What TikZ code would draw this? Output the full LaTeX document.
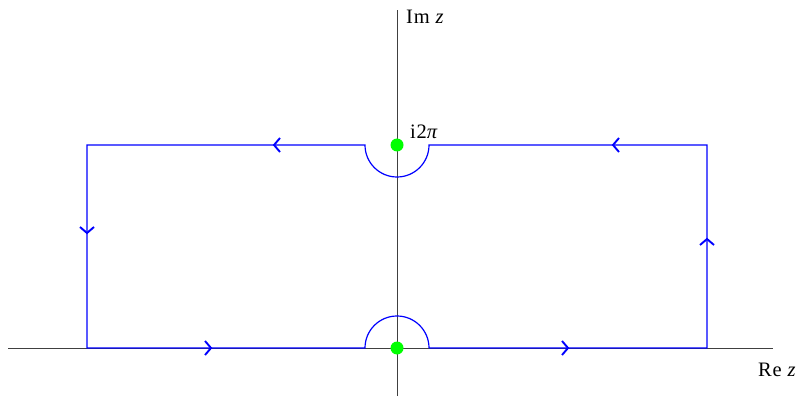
\documentclass[tikz,border=0pt]{standalone}
\usepackage{fontspec}
\setmainfont{Liberation Serif}
\begin{document}
\begin{tikzpicture}[x=1pt,y=-1pt,
  axis/.style={draw=black!75,line width=0.8pt},
  contour/.style={draw=blue,line width=1.2pt},
  chevst/.style={draw=blue,line width=1.9pt},
  pole/.style={fill=green,draw=none},
  lbl/.style={font=\fontsize{20.5}{22}\selectfont\addfontfeature{LetterSpace=4},inner sep=0pt,anchor=base west}]
\useasboundingbox (0,0) rectangle (803,398);
% axes
\coordinate (xl) at (8,348); \coordinate (xr) at (773,348);
\coordinate (yb) at (397,396); \coordinate (yt) at (397,10);
\draw[axis] (xl) -- (xr);
\draw[axis] (yb) -- (yt);
% contour
\coordinate (o) at (397,348);
\coordinate (p) at (397,145);
\coordinate (br1) at (429,348); \coordinate (brc) at (707,348);
\coordinate (trc) at (707,145); \coordinate (tr1) at (429,145);
\coordinate (tl1) at (365,145); \coordinate (tlc) at (87,145);
\coordinate (blc) at (87,348); \coordinate (bl1) at (365,348);
\draw[contour] (br1) -- (brc) -- (trc) -- (tr1)
  arc[start angle=0,end angle=180,radius=32] -- (tlc) -- (blc) -- (bl1)
  arc[start angle=180,end angle=360,radius=32];
% chevrons
\newcommand\mychev[3]{\draw[chevst,shift={(#1,#2)},rotate=#3] (-6,-7) -- (0,0) -- (-6,7);}
\mychev{211}{348}{0}
\mychev{568}{348}{0}
\mychev{274}{145}{180}
\mychev{613}{145}{180}
\mychev{87}{233}{-90}
\mychev{707}{239}{90}
% poles
\fill[pole] (o) circle[radius=6.5];
\fill[pole] (p) circle[radius=6.5];
% labels
\node[lbl] (im) at (406,24) {Im \textit{z}};
\node[lbl] (re) at (758,376) {Re \textit{z}};
\node[lbl] (pl) at (410,139) {i2\textit{π}};
\end{tikzpicture}
\end{document}
